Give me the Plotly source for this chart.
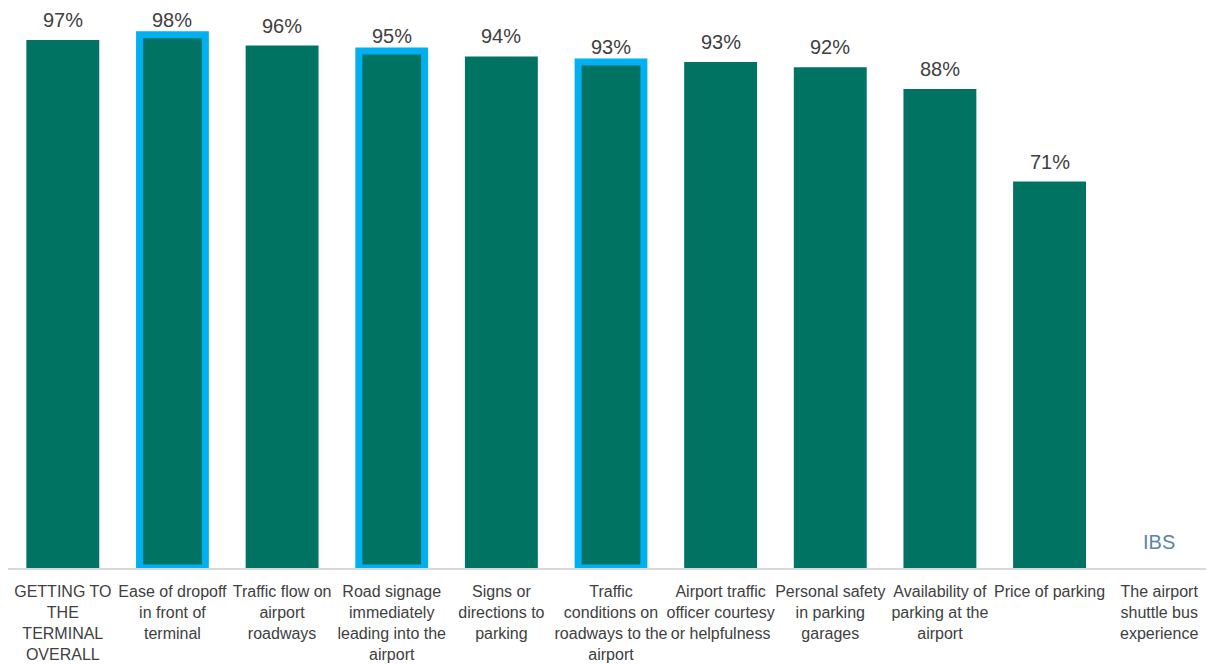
import plotly.graph_objects as go

# Categories (wrapped as on the original slide)
categories = [
    "GETTING TO<br>THE<br>TERMINAL<br>OVERALL",
    "Ease of dropoff<br>in front of<br>terminal",
    "Traffic flow on<br>airport<br>roadways",
    "Road signage<br>immediately<br>leading into the<br>airport",
    "Signs or<br>directions to<br>parking",
    "Traffic<br>conditions on<br>roadways to the<br>airport",
    "Airport traffic<br>officer courtesy<br>or helpfulness",
    "Personal safety<br>in parking<br>garages",
    "Availability of<br>parking at the<br>airport",
    "Price of parking",
    "The airport<br>shuttle bus<br>experience",
]
# Percent satisfied (last item has no bar, only the IBS note)
values = [97, 98, 96, 95, 94, 93, 93, 92, 88, 71, None]
# Items highlighted with a blue outline
highlighted = [False, True, False, True, False, True, False, False, False, False, False]

teal = "#007363"
blue = "#00B0F0"

line_widths = [7 if h else 0 for h in highlighted]
bar_widths = [0.6 if h else 0.665 for h in highlighted]

fig = go.Figure()
fig.add_trace(go.Bar(
    x=categories,
    y=values,
    width=bar_widths,
    marker=dict(color=teal, line=dict(color=blue, width=line_widths)),
    hoverinfo="skip",
))

# value labels above the bars
for cat, v, h in zip(categories, values, highlighted):
    if v is None:
        continue
    fig.add_annotation(x=cat, y=v, text=f"{v}%", showarrow=False,
                       yanchor="bottom", yshift=3 if h else 8, borderpad=0,
                       font=dict(family="Liberation Sans, Arial", size=20, color="#404040"))

# "IBS" note where the last bar would be
fig.add_annotation(x=categories[-1], y=0, yref="y", text="IBS", showarrow=False,
                   yanchor="bottom", yshift=13,
                   font=dict(family="Liberation Sans, Arial", size=20, color="#5B84A6"))

# page body has an 8px margin, so the figure is a bit smaller than the window
fig.update_layout(
    width=1206, height=656,
    margin=dict(l=0, r=0, t=0, b=96),
    plot_bgcolor="white", paper_bgcolor="white",
    showlegend=False,
    font=dict(family="Liberation Sans, Arial", size=16, color="#404040"),
    xaxis=dict(showline=True, linecolor="#D9D9D9", linewidth=2, showgrid=False,
               automargin=False,
               ticks="outside", ticklen=8, tickcolor="white", tickangle=0,
               tickfont=dict(size=16, color="#404040")),
    yaxis=dict(range=[0, 102.9], visible=False, showgrid=False, automargin=False),
)

fig.write_html("out.html")
